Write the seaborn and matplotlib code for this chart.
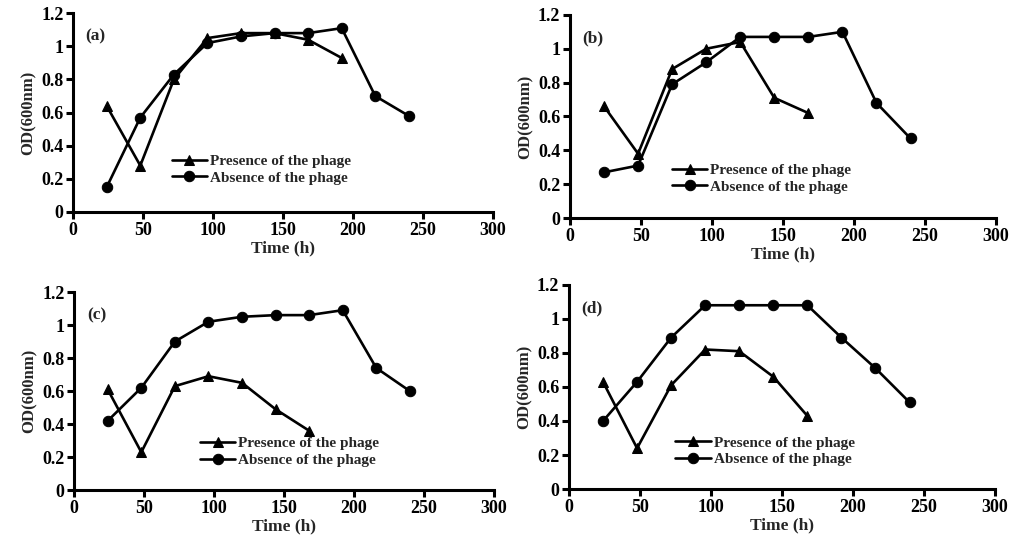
import pandas as pd
import matplotlib
matplotlib.use("Agg")
import matplotlib.pyplot as plt
import seaborn as sns

# Sampling times (h)
time_presence = [24, 48, 72, 96, 120, 144, 168]
time_absence = [24, 48, 72, 96, 120, 144, 168, 192, 216, 240]

# OD600 readings per panel
a_presence = [0.64, 0.28, 0.80, 1.05, 1.08, 1.08, 1.04, 0.93]
a_presence_time = [24, 48, 72, 96, 120, 144, 168, 192]
a_absence = [0.15, 0.57, 0.83, 1.02, 1.06, 1.08, 1.08, 1.11, 0.70, 0.58]

b_presence = [0.66, 0.38, 0.88, 1.00, 1.04, 0.71, 0.62]
b_absence = [0.27, 0.31, 0.79, 0.92, 1.07, 1.07, 1.07, 1.10, 0.68, 0.47]

c_presence = [0.61, 0.23, 0.63, 0.69, 0.65, 0.49, 0.36]
c_absence = [0.42, 0.62, 0.90, 1.02, 1.05, 1.06, 1.06, 1.09, 0.74, 0.60]

d_presence = [0.63, 0.24, 0.61, 0.82, 0.81, 0.66, 0.43]
d_absence = [0.40, 0.63, 0.89, 1.08, 1.08, 1.08, 1.08, 0.89, 0.71, 0.51]

panel_labels = ["(a)", "(b)", "(c)", "(d)"]
series_names = ["Presence of the phage", "Absence of the phage"]
x_ticks = [0, 50, 100, 150, 200, 250, 300]
y_ticks = [0, 0.2, 0.4, 0.6, 0.8, 1.0, 1.2]
y_ticklabels = ["0", "0.2", "0.4", "0.6", "0.8", "1", "1.2"]

panels = [
    (a_presence_time, a_presence, a_absence),
    (time_presence, b_presence, b_absence),
    (time_presence, c_presence, c_absence),
    (time_presence, d_presence, d_absence),
]

sns.set_style("white")
plt.rcParams["font.family"] = ["Liberation Serif", "DejaVu Serif"]
plt.rcParams["font.weight"] = "bold"

fig = plt.figure(figsize=(10.16, 5.52), dpi=100)
axes_pos = [
    [0.072, 0.616, 0.413, 0.360],
    [0.561, 0.605, 0.419, 0.368],
    [0.073, 0.112, 0.413, 0.359],
    [0.560, 0.114, 0.419, 0.370],
]
legend_anchor = [(0.235, 0.29), (0.24, 0.27), (0.30, 0.27), (0.25, 0.26)]

for i, (tp, pres, absn) in enumerate(panels):
    ax = fig.add_axes(axes_pos[i])
    df = pd.concat([
        pd.DataFrame({"Time": tp, "OD": pres, "Group": series_names[0]}),
        pd.DataFrame({"Time": time_absence, "OD": absn, "Group": series_names[1]}),
    ])
    sns.lineplot(data=df, x="Time", y="OD", style="Group", markers=["^", "o"],
                 dashes=False, color="black", linewidth=1.9, markersize=7.5,
                 markeredgecolor="black", ax=ax, sort=False)
    ax.set_xlim(0, 300)
    ax.set_ylim(0, 1.2)
    ax.set_xticks(x_ticks)
    ax.set_yticks(y_ticks)
    ax.set_yticklabels(y_ticklabels)
    ax.set_xlabel("Time (h)", fontsize=12.5, fontweight="bold", labelpad=1)
    ax.set_ylabel("OD(600nm)", fontsize=12, fontweight="bold", labelpad=3)
    for s in ["top", "right"]:
        ax.spines[s].set_visible(False)
    for s in ["left", "bottom"]:
        ax.spines[s].set_color("black")
        ax.spines[s].set_linewidth(2.2)
    ax.tick_params(axis="both", direction="out", length=5, width=2.2,
                   colors="black", labelsize=13, pad=2,
                   bottom=True, left=True)
    for lab in ax.get_xticklabels() + ax.get_yticklabels():
        lab.set_fontweight("bold")
    ax.text(9, 1.06, panel_labels[i], fontsize=12.5, fontweight="bold", va="center")
    ax.legend(frameon=False, loc="upper left", bbox_to_anchor=legend_anchor[i],
              fontsize=11, handlelength=2.3, borderpad=0, labelspacing=0.2,
              handletextpad=0.2, borderaxespad=0)

fig.savefig("out.png", dpi=100)
